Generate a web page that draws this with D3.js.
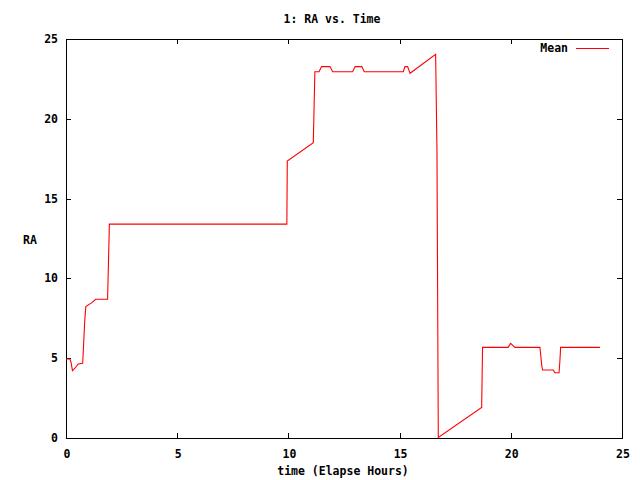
<!DOCTYPE html>
<html><head><meta charset="utf-8">
<script src="https://cdn.jsdelivr.net/npm/d3@7"></script>
<style>body{margin:0;background:#fff}svg{display:block}text{font-family:"DejaVu Sans Mono",monospace;font-weight:bold;font-size:11.5px;fill:#000}</style>
</head><body>
<script>
const title = "1: RA vs. Time";
const xLabel = "time (Elapse Hours)";
const yLabel = "RA";
const seriesName = "Mean";
const xTicks = [0, 5, 10, 15, 20, 25];
const yTicks = [0, 5, 10, 15, 20, 25];
const timeHours = [0, 0.18, 0.22, 0.29, 0.40, 0.55, 0.75, 0.78, 0.84, 0.89, 1.18, 1.33, 1.87, 1.95,
  9.93, 9.95, 11.12, 11.19, 11.38, 11.49, 11.87, 11.99, 12.89, 13.0, 13.3, 13.41, 15.17, 15.24, 15.36, 15.47, 16.62,
  16.68, 16.74, 18.69, 18.73, 19.88, 19.99, 20.19, 21.31, 21.39, 21.43, 21.91, 21.98, 22.17, 22.21, 22.24, 24.01];
const raMean = [4.95, 4.95, 4.78, 4.22, 4.37, 4.64, 4.68, 5.5, 7.29, 8.23, 8.5, 8.69, 8.69, 13.4,
  13.4, 17.36, 18.5, 22.95, 22.95, 23.27, 23.27, 22.95, 22.95, 23.27, 23.27, 22.95, 22.95, 23.27, 23.27, 22.85, 24.04,
  18.0, 0.04, 1.92, 5.68, 5.68, 5.93, 5.68, 5.68, 4.57, 4.26, 4.26, 4.09, 4.09, 4.89, 5.68, 5.68];

const W = 640, H = 480, L = 66, R = 622, T = 39, B = 438;
const svg = d3.select("body").append("svg").attr("width", W).attr("height", H);
const x = d3.scaleLinear().domain([0, 25]).range([L, R]);
const y = d3.scaleLinear().domain([0, 25]).range([B, T]);

const g = svg.append("g").attr("shape-rendering", "crispEdges");
const tl = 5;
xTicks.forEach(t => {
  const px = Math.round(x(t)) + 0.5;
  g.append("line").attr("x1", px).attr("x2", px).attr("y1", B).attr("y2", B - tl).attr("stroke", "#000");
  g.append("line").attr("x1", px).attr("x2", px).attr("y1", T).attr("y2", T + tl).attr("stroke", "#000");
  svg.append("text").attr("x", x(t) + 1).attr("y", 458).attr("text-anchor", "middle").text(t);
});
yTicks.forEach(t => {
  const py = Math.round(y(t)) + 0.5;
  g.append("line").attr("x1", L).attr("x2", L + tl).attr("y1", py).attr("y2", py).attr("stroke", "#000");
  g.append("line").attr("x1", R).attr("x2", R - tl).attr("y1", py).attr("y2", py).attr("stroke", "#000");
  svg.append("text").attr("x", 58).attr("y", y(t) + 4).attr("text-anchor", "end").text(t);
});
g.append("rect").attr("x", L + 0.5).attr("y", T + 0.5).attr("width", R - L).attr("height", B - T)
  .attr("fill", "none").attr("stroke", "#000");

const data = timeHours.map((t, i) => [t, raMean[i]]);
svg.append("path").datum(data)
  .attr("d", d3.line().x(d => x(d[0])).y(d => y(d[1])))
  .attr("fill", "none").attr("stroke", "#ff0000").attr("stroke-width", 1.1);

svg.append("text").attr("x", 332).attr("y", 23).attr("text-anchor", "middle").text(title);
svg.append("text").attr("x", 343).attr("y", 475).attr("text-anchor", "middle").text(xLabel);
svg.append("text").attr("x", 30).attr("y", 244).attr("text-anchor", "middle").text(yLabel);

svg.append("text").attr("x", 568).attr("y", 52).attr("text-anchor", "end").text(seriesName);
svg.append("line").attr("x1", 576).attr("x2", 609).attr("y1", 48.5).attr("y2", 48.5)
  .attr("stroke", "#ff0000").attr("shape-rendering", "crispEdges");
</script>
</body></html>
